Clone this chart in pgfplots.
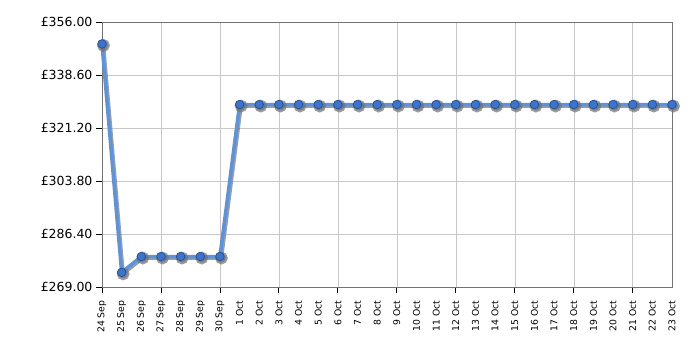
\documentclass[border=0pt]{standalone}
\usepackage{pgfplots}
\pgfplotsset{compat=1.18}
\usepackage{fontspec}
\setmainfont{DejaVu Sans}
\definecolor{lineblue}{HTML}{5A93E0}
\definecolor{markfill}{HTML}{3A74CC}
\definecolor{markdraw}{HTML}{22509A}
\definecolor{gridgray}{HTML}{C8C8C8}
\begin{document}
\begin{tikzpicture}
\useasboundingbox (-102pt,-63pt) rectangle (598pt,287pt);
\begin{axis}[
  at={(0pt,0pt)}, anchor=south west,
  scale only axis, width=570pt, height=265pt,
  xmin=0, xmax=29, ymin=269, ymax=356,
  axis line style={gray!90!black},
  xtick={0,...,29},
  xticklabels={24 Sep,25 Sep,26 Sep,27 Sep,28 Sep,29 Sep,30 Sep,1 Oct,2 Oct,3 Oct,4 Oct,5 Oct,6 Oct,7 Oct,8 Oct,9 Oct,10 Oct,11 Oct,12 Oct,13 Oct,14 Oct,15 Oct,16 Oct,17 Oct,18 Oct,19 Oct,20 Oct,21 Oct,22 Oct,23 Oct},
  x tick label style={rotate=90, anchor=east, font=\fontsize{9.3}{10}\selectfont, xshift=-4pt},
  major x tick style={draw=none},
  minor xtick={0,3,...,27},
  minor x tick style={black, line width=0.8pt},
  minor tick length=6pt,
  xminorgrids=true,
  minor grid style={gridgray},
  ytick={269,286.4,303.8,321.2,338.6,356},
  yticklabels={£269.00,£286.40,£303.80,£321.20,£338.60,£356.00},
  y tick label style={font=\fontsize{12.5}{14}\selectfont},
  ymajorgrids=true,
  major grid style={gridgray},
  major y tick style={black, line width=0.8pt},
  major tick length=6pt,
  tick align=outside,
  xtick pos=bottom, ytick pos=left,
  clip=false,
]
\addplot[draw=black!55, line width=3.5pt, xshift=1.5pt, yshift=-1.5pt, opacity=0.7,
  mark=*, mark size=4.6pt, mark options={fill=black!55, draw=black!55}] coordinates {
(0,348.8)(1,273.8)(2,279.0)(3,279.0)(4,279.0)(5,279.0)(6,279.0)
(7,328.9)(8,328.9)(9,328.9)(10,328.9)(11,328.9)(12,328.9)(13,328.9)(14,328.9)
(15,328.9)(16,328.9)(17,328.9)(18,328.9)(19,328.9)(20,328.9)(21,328.9)(22,328.9)
(23,328.9)(24,328.9)(25,328.9)(26,328.9)(27,328.9)(28,328.9)(29,328.9)
};
\addplot[draw=lineblue, line width=3.5pt,
  mark=*, mark size=4.3pt, mark options={fill=markfill, draw=markdraw, line width=0.7pt}] coordinates {
(0,348.8)(1,273.8)(2,279.0)(3,279.0)(4,279.0)(5,279.0)(6,279.0)
(7,328.9)(8,328.9)(9,328.9)(10,328.9)(11,328.9)(12,328.9)(13,328.9)(14,328.9)
(15,328.9)(16,328.9)(17,328.9)(18,328.9)(19,328.9)(20,328.9)(21,328.9)(22,328.9)
(23,328.9)(24,328.9)(25,328.9)(26,328.9)(27,328.9)(28,328.9)(29,328.9)
};
\end{axis}
\end{tikzpicture}
\end{document}
